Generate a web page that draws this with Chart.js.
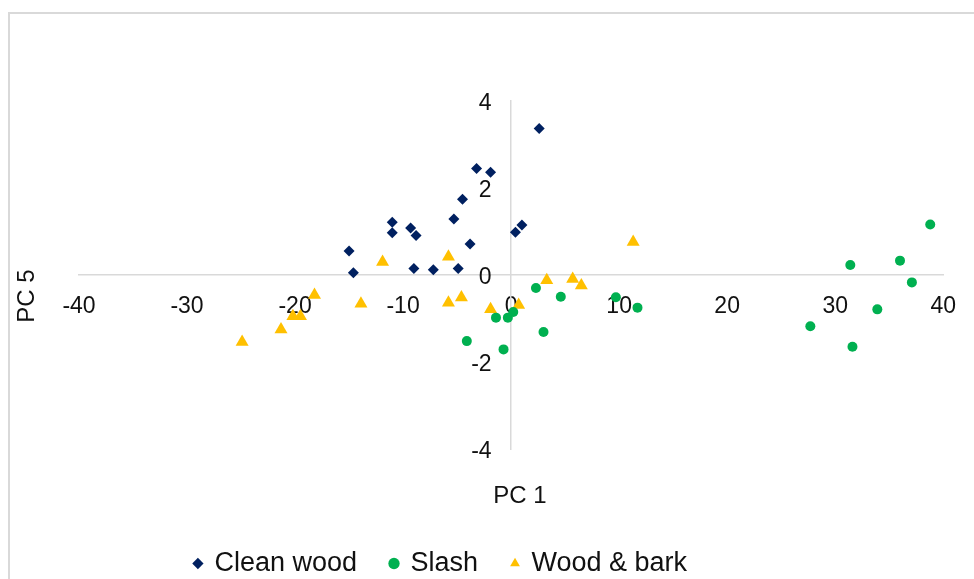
<!DOCTYPE html>
<html>
<head>
<meta charset="utf-8">
<script src="https://cdn.jsdelivr.net/npm/chart.js@4"></script>
<style>
    html, body { margin: 0; padding: 0; background: #fff; overflow: hidden; }
    #wrap { position: relative; width: 974px; height: 579px; }
</style>
</head>
<body>
<div id="wrap"><canvas id="chart" width="974" height="579"></canvas></div>
<script>
// PCA scores, PC 1 vs PC 5
const cleanWoodX = [2.6, -3.2, -1.9, -4.5, -5.3, -11.0, -11.0, -9.3, -8.8, 1.0, 0.4, -3.8, -15.0, -14.6, -9.0, -7.2, -4.9];
const cleanWoodY = [3.37, 2.45, 2.36, 1.74, 1.29, 1.21, 0.97, 1.08, 0.91, 1.15, 0.98, 0.71, 0.55, 0.05, 0.15, 0.12, 0.15];

const slashX = [2.3, -1.4, -0.3, 0.2, -4.1, -0.7, 3.0, 4.6, 9.7, 11.7, 27.7, 31.4, 31.6, 33.9, 36.0, 37.1, 38.8];
const slashY = [-0.30, -0.98, -0.98, -0.85, -1.52, -1.71, -1.31, -0.50, -0.51, -0.75, -1.18, 0.23, -1.65, -0.79, 0.33, -0.17, 1.16];

const woodBarkX = [-24.9, -21.3, -20.2, -19.5, -18.2, -13.9, -11.9, -5.8, -5.8, -4.6, -1.9, 0.7, 3.3, 5.7, 6.5, 11.3];
const woodBarkY = [-1.54, -1.25, -0.95, -0.95, -0.46, -0.66, 0.30, 0.42, -0.64, -0.52, -0.79, -0.69, -0.12, -0.09, -0.24, 0.76];

const seriesNames = ['Clean wood', 'Slash', 'Wood & bark'];
const xTitle = 'PC 1';
const yTitle = 'PC 5';

const colors = {
    clean: '#002060',
    slash: '#00B050',
    bark: '#FFC000',
    axis: '#D9D9D9',
    text: '#111111'
};
const fontFamily = "'Liberation Sans', Arial, sans-serif";
const tickFont = { family: fontFamily, size: 23 };

function toPoints(xs, ys) {
    return xs.map((x, i) => ({ x: x, y: ys[i] }));
}

// chart frame, axis titles, legend sits left of centre like the original
const extras = {
    id: 'extras',
    afterLayout(chart) {
        chart.legend.left -= 72;
        chart.legend.right -= 72;
    },
    beforeDraw(chart) {
        const ctx = chart.ctx;
        ctx.save();
        ctx.strokeStyle = colors.axis;
        ctx.lineWidth = 2;
        ctx.beginPath();
        ctx.moveTo(9, 600);
        ctx.lineTo(9, 13);
        ctx.lineTo(1000, 13);
        ctx.stroke();
        ctx.restore();
    },
    afterDraw(chart) {
        const ctx = chart.ctx;
        ctx.save();
        ctx.fillStyle = colors.text;
        ctx.font = '24px ' + fontFamily;
        ctx.textAlign = 'center';
        ctx.textBaseline = 'middle';
        ctx.fillText(xTitle, 520, 496);
        ctx.translate(27, 296);
        ctx.rotate(-Math.PI / 2);
        ctx.fillText(yTitle, 0, 0);
        ctx.restore();
    }
};

new Chart(document.getElementById('chart'), {
    type: 'scatter',
    data: {
        datasets: [{
            label: seriesNames[0],
            data: toPoints(cleanWoodX, cleanWoodY),
            pointStyle: 'rectRot',
            pointRadius: 5.5,
            backgroundColor: colors.clean,
            borderColor: colors.clean,
            borderWidth: 0
        }, {
            label: seriesNames[1],
            data: toPoints(slashX, slashY),
            pointStyle: 'circle',
            pointRadius: 5,
            backgroundColor: colors.slash,
            borderColor: colors.slash,
            borderWidth: 0
        }, {
            label: seriesNames[2],
            data: toPoints(woodBarkX, woodBarkY),
            pointStyle: 'triangle',
            pointRadius: 7.5,
            backgroundColor: colors.bark,
            borderColor: colors.bark,
            borderWidth: 0
        }]
    },
    options: {
        responsive: false,
        animation: false,
        layout: {
            padding: { left: 79, right: 27, top: 101, bottom: -8 }
        },
        plugins: {
            legend: {
                position: 'bottom',
                title: {
                    display: true,
                    text: ' ',
                    font: { size: 10 },
                    padding: { top: 55, bottom: 0 }
                },
                labels: {
                    usePointStyle: true,
                    boxWidth: 6,
                    boxHeight: 8,
                    padding: 34,
                    color: colors.text,
                    font: { family: fontFamily, size: 27 }
                }
            },
            tooltip: { enabled: false }
        },
        scales: {
            x: {
                type: 'linear',
                position: { y: 0 },
                min: -40,
                max: 40,
                ticks: {
                    stepSize: 10,
                    padding: 18,
                    color: colors.text,
                    font: tickFont
                },
                grid: { display: false, drawTicks: false },
                border: { display: true, color: colors.axis, width: 1.5 }
            },
            y: {
                type: 'linear',
                position: { x: 0 },
                min: -4,
                max: 4,
                ticks: { display: false, stepSize: 2 },
                grid: { display: false, drawTicks: false },
                border: { display: true, color: colors.axis, width: 1.5 }
            },
            // value labels of PC 5, set a little left of the vertical axis
            yLabels: {
                type: 'linear',
                axis: 'y',
                position: { x: -1.8 },
                min: -4,
                max: 4,
                ticks: {
                    stepSize: 2,
                    labelOffset: 3,
                    color: colors.text,
                    font: tickFont
                },
                grid: { display: false, drawTicks: false },
                border: { display: false }
            }
        }
    },
    plugins: [extras]
});
</script>
</body>
</html>
